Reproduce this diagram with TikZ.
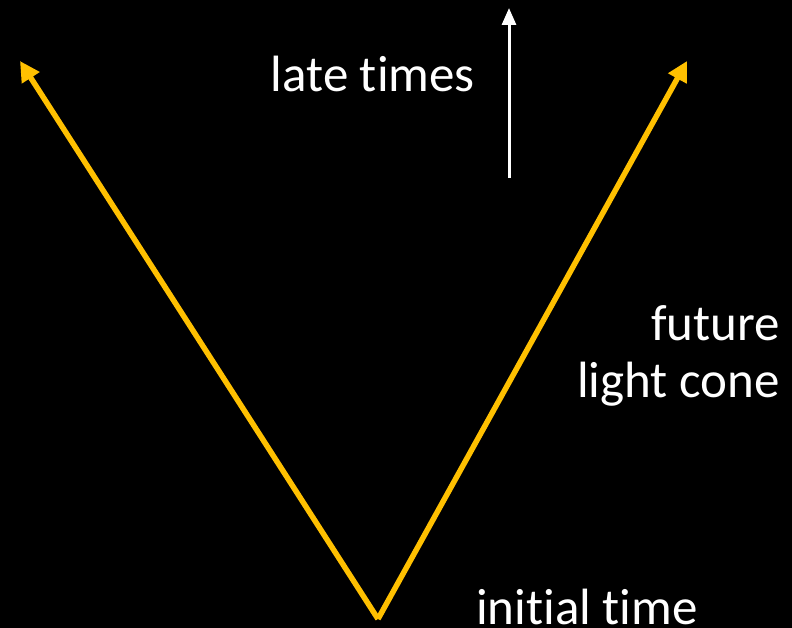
\documentclass[tikz,border=0pt]{standalone}
\usepackage{fontspec}
\setmainfont{Carlito}[Ligatures={NoCommon}]
\usetikzlibrary{arrows.meta}
\definecolor{conecolor}{HTML}{FFC000}
\tikzset{
	lbl/.style={text=white,font=\fontsize{51}{56}\selectfont,inner sep=0pt},
	cone/.style={line width=5.5pt,conecolor,-{Triangle[length=20pt,width=20pt]}}
}
\begin{document}
\begin{tikzpicture}[x=1pt,y=-1pt]
	\fill[black] (0,0) rectangle (792,628);
	\useasboundingbox (0,0) rectangle (792,628);
	\coordinate (apex) at (378,619);
	\coordinate (lefttip) at (20,61);
	\coordinate (righttip) at (687,61);
	\draw[cone] (apex) -- (lefttip);
	\draw[cone] (apex) -- (righttip);
	\coordinate (timebot) at (509,178);
	\coordinate (timetop) at (509,8);
	\draw[white,line width=3pt,-{Triangle[length=17pt,width=14pt]}] (timebot) -- (timetop);
	\node[lbl,anchor=base east] (late) at (475,92) {late times};
	\node[lbl,anchor=base east] (future) at (780,340) {future};
	\node[lbl,anchor=base east] (cone) at (780,397) {light cone};
	\node[lbl,anchor=base west] (initial) at (476,624) {initial time};
\end{tikzpicture}
\end{document}
